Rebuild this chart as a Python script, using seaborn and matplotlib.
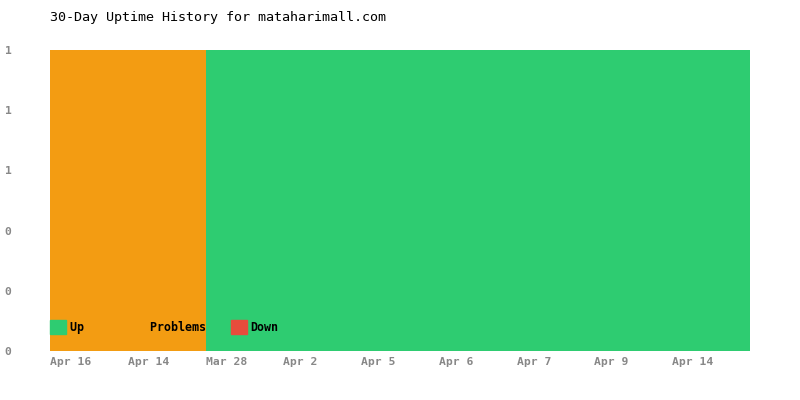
import matplotlib
matplotlib.use("Agg")
import matplotlib.pyplot as plt
from matplotlib.patches import Patch
import seaborn as sns
import numpy as np

# 30 days grouped into status blocks
dates = ["Apr 16", "Apr 14", "Mar 28", "Apr 2", "Apr 5", "Apr 6", "Apr 7", "Apr 9", "Apr 14"]
up = [0, 0, 1, 1, 1, 1, 1, 1, 1]
problems = [1, 1, 0, 0, 0, 0, 0, 0, 0]
down = [0, 0, 0, 0, 0, 0, 0, 0, 0]
yticks = [0, 0.2, 0.4, 0.6, 0.8, 1.0]

GREEN = "#2ecc71"
ORANGE = "#f39c12"
RED = "#e74c3c"
GRAY = "#888888"
MONO = "DejaVu Sans Mono"

sns.set_style("white")
plt.rcParams["font.family"] = MONO

fig = plt.figure(figsize=(8, 4), dpi=100)
ax = fig.add_axes([50 / 800, 49 / 400, 700 / 800, 301 / 400])

idx = np.arange(len(dates))
up_a = np.array(up)
prob_a = np.array(problems)
down_a = np.array(down)

# stacked: draw totals first, smaller stacks on top
sns.barplot(x=idx, y=up_a + prob_a + down_a, color=RED, width=1, saturation=1, ax=ax, linewidth=0)
sns.barplot(x=idx, y=up_a + prob_a, color=ORANGE, width=1, saturation=1, ax=ax, linewidth=0)
sns.barplot(x=idx, y=up_a, color=GREEN, width=1, saturation=1, ax=ax, linewidth=0)

ax.set_xlim(-0.5, len(dates) - 0.5)
ax.set_ylim(0, 1)
ax.set_xticks(idx - 0.5)
ax.set_xticklabels(dates, ha="left", fontsize=8.2, fontweight="bold", color=GRAY)
ax.set_yticks(yticks)
ax.set_yticklabels([f"{v:.0f}" for v in yticks], fontsize=8.2, fontweight="bold", color=GRAY)
ax.tick_params(axis="x", length=0, pad=4)
ax.tick_params(axis="y", length=0, pad=32.5)
for lbl in ax.get_yticklabels():
    lbl.set_horizontalalignment("left")
ax.set_xlabel("")
ax.set_ylabel("")
sns.despine(ax=ax, left=True, bottom=True)

handles = [Patch(color=GREEN), Patch(color=ORANGE), Patch(color=RED)]
labels = ["Up     ", "Problems  ", "Down"]
leg = ax.legend(handles, labels, loc="lower left", bbox_to_anchor=(0, 17 / 301), ncol=3,
                frameon=False, borderaxespad=0, borderpad=0, handlelength=1.4, handleheight=1.4,
                handletextpad=0.3, columnspacing=0.95,
                prop={"family": MONO, "weight": "bold", "size": 8.4})
for t in leg.get_texts():
    t.set_color("black")

fig.text(50 / 800, 1 - 18 / 400, "30-Day Uptime History for mataharimall.com",
         fontsize=9.6, color="black", va="center", ha="left", family=MONO)

fig.savefig("out.png", dpi=100)
